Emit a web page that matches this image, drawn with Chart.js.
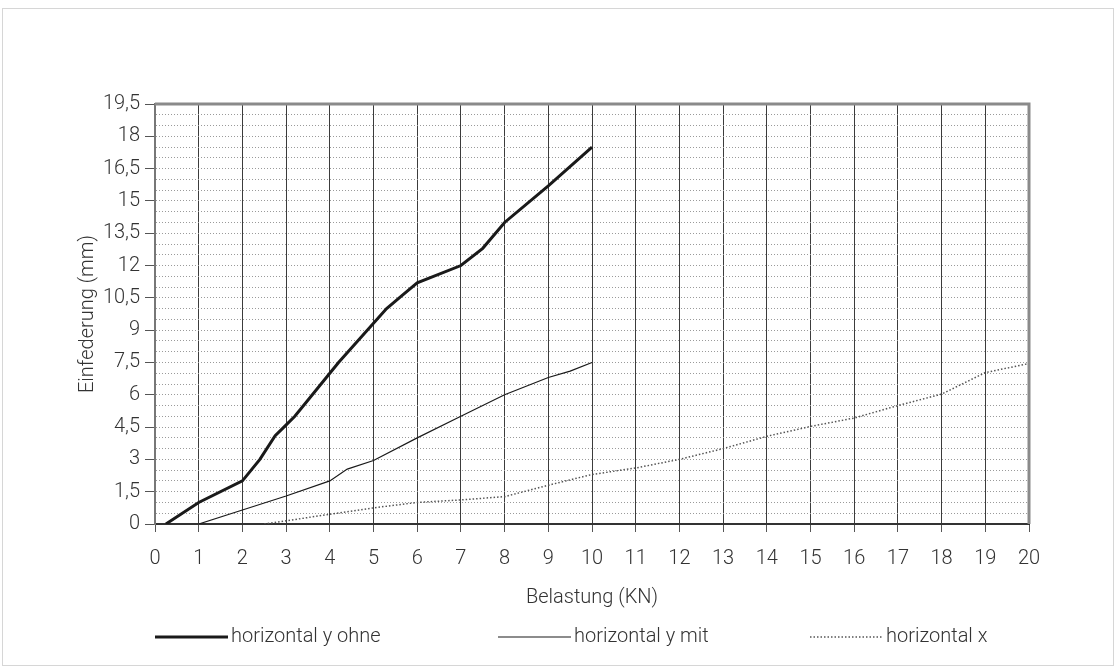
<!DOCTYPE html>
<html>
<head>
<meta charset="utf-8">
<script src="https://cdn.jsdelivr.net/npm/chart.js@4.4.0/dist/chart.umd.min.js"></script>
<style>
    html, body { margin: 0; padding: 0; background: #fff; }
    #frame { position: absolute; left: 2px; top: 8px; width: 1112px; height: 658px; border: 1px solid #d6d6d6; box-sizing: border-box; }
    #wrap { position: absolute; left: 0; top: 0; width: 1117px; height: 668px; }
</style>
</head>
<body>
<div id="frame"></div>
<div id="wrap"><canvas id="chart" width="1117" height="668"></canvas></div>
<script>
    // horizontal y ohne
    var ohneX = [0.25, 1, 2, 2.4, 2.75, 2.95, 3.2, 3.6, 4, 4.2, 5.3, 5.65, 6, 7, 7.5, 8, 9, 10];
    var ohneY = [0, 1, 2, 3, 4.1, 4.5, 5, 6, 7, 7.5, 10, 10.6, 11.2, 12, 12.8, 14, 15.7, 17.5];

    // horizontal y mit
    var mitX = [1, 2, 3, 4, 4.4, 5, 6, 7, 8, 9, 9.5, 10];
    var mitY = [0, 0.65, 1.3, 2, 2.55, 2.95, 4, 5, 6, 6.8, 7.1, 7.5];

    // horizontal x
    var horX = [2.5, 3, 4, 5, 6, 7, 8, 9, 10, 11, 12, 13, 14, 15, 16, 17, 18, 19, 20];
    var horY = [0, 0.15, 0.45, 0.75, 1, 1.12, 1.27, 1.8, 2.3, 2.6, 3, 3.5, 4.07, 4.53, 4.92, 5.5, 6.03, 7.03, 7.45];

    var seriesNames = ['horizontal y ohne', 'horizontal y mit', 'horizontal x'];
    var xTitle = 'Belastung (KN)';
    var yTitle = 'Einfederung (mm)';
    var yLabelStep = 1.5;

    var legendStarts = [155, 498, 810];

    function pts(xs, ys) {
        return xs.map(function(x, i) { return {x: x, y: ys[i]}; });
    }

    function isMajor(v) {
        var k = v / yLabelStep;
        return Math.abs(k - Math.round(k)) < 1e-6;
    }

    Chart.defaults.font.family = 'Roboto, "Liberation Sans", sans-serif';
    Chart.defaults.font.weight = '300';
    Chart.defaults.font.size = 20;
    Chart.defaults.color = '#333';

    var frameLines = {
        id: 'frameLines',
        afterDatasetsDraw: function(chart) {
            var a = chart.chartArea, ctx = chart.ctx;
            ctx.save();
            ctx.strokeStyle = '#8a8a8a';
            ctx.lineWidth = 3;
            ctx.beginPath();
            ctx.moveTo(a.left, a.top);
            ctx.lineTo(a.right, a.top);
            ctx.lineTo(a.right, a.bottom);
            ctx.stroke();
            ctx.restore();
        }
    };

    var lineLegend = {
        id: 'lineLegend',
        afterDraw: function(chart) {
            var ctx = chart.ctx;
            ctx.save();
            ctx.font = '300 20px Roboto, "Liberation Sans", sans-serif';
            ctx.textBaseline = 'middle';
            ctx.fillStyle = '#333';
            chart.data.datasets.forEach(function(ds, i) {
                var x0 = legendStarts[i], y = 637;
                ctx.beginPath();
                ctx.setLineDash(ds.borderDash || []);
                ctx.lineWidth = ds.borderWidth;
                ctx.strokeStyle = ds.borderColor;
                ctx.moveTo(x0, y);
                ctx.lineTo(x0 + 73, y);
                ctx.stroke();
                ctx.setLineDash([]);
                ctx.fillText(ds.label, x0 + 76, y);
            });
            ctx.restore();
        }
    };

    var config = {
        type: 'line',
        data: {
            datasets: [{
                label: seriesNames[0],
                data: pts(ohneX, ohneY),
                borderColor: '#1a1a1a',
                borderWidth: 3,
                pointRadius: 0,
                tension: 0
            }, {
                label: seriesNames[1],
                data: pts(mitX, mitY),
                borderColor: '#1a1a1a',
                borderWidth: 1.2,
                pointRadius: 0,
                tension: 0
            }, {
                label: seriesNames[2],
                data: pts(horX, horY),
                borderColor: '#555',
                borderWidth: 1.5,
                borderDash: [1.5, 2],
                pointRadius: 0,
                tension: 0
            }]
        },
        options: {
            responsive: false,
            animation: false,
            layout: {
                padding: {left: 75, right: 88, top: 104, bottom: 58}
            },
            plugins: {
                legend: {display: false},
                tooltip: {enabled: false}
            },
            scales: {
                x: {
                    type: 'linear',
                    min: 0,
                    max: 20,
                    afterFit: function(scale) { scale.height = 86; },
                    ticks: {
                        stepSize: 1,
                        autoSkip: false,
                        maxRotation: 0,
                        padding: 15
                    },
                    grid: {
                        color: '#3c3c3c',
                        lineWidth: 1,
                        tickLength: 8,
                        tickColor: '#555'
                    },
                    border: {color: '#333', width: 2},
                    title: {
                        display: true,
                        text: xTitle,
                        padding: {top: 0, bottom: 0}
                    }
                },
                y: {
                    min: 0,
                    max: 19.5,
                    afterFit: function(scale) { scale.width = 80; },
                    ticks: {
                        stepSize: 0.5,
                        autoSkip: false,
                        padding: 5,
                        callback: function(v) {
                            return isMajor(v) ? String(+v.toFixed(1)).replace('.', ',') : '';
                        }
                    },
                    grid: {
                        color: '#9a9a9a',
                        lineWidth: 1,
                        tickLength: 10,
                        tickColor: function(c) {
                            return (c.tick && isMajor(c.tick.value)) ? '#555' : 'rgba(0,0,0,0)';
                        }
                    },
                    border: {color: '#777', width: 2, dash: [1, 2]},
                    title: {
                        display: true,
                        text: yTitle,
                        padding: {top: 1, bottom: 0}
                    }
                }
            }
        },
        plugins: [frameLines, lineLegend]
    };

    window.onload = function() {
        window.myChart = new Chart(document.getElementById('chart'), config);
    };
</script>
</body>
</html>
